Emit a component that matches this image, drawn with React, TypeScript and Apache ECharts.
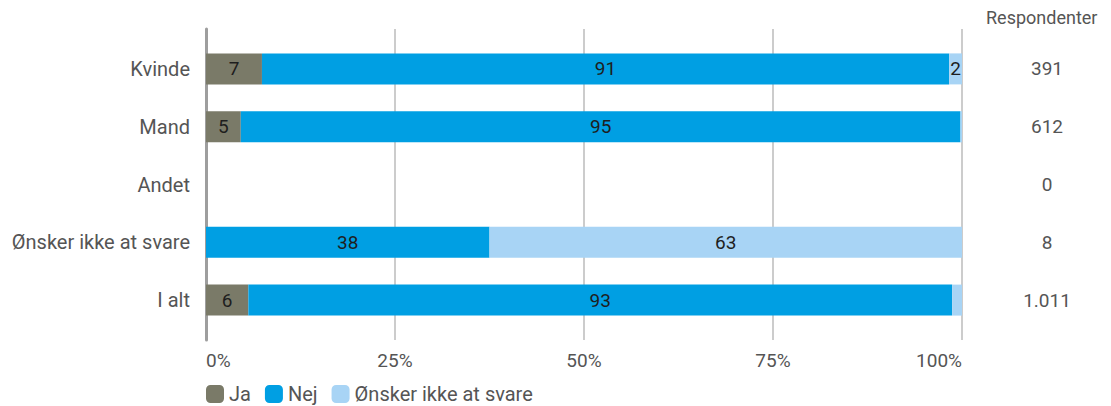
import React, { useEffect, useRef } from "react";
import * as echarts from "echarts";

const categories = ["Kvinde", "Mand", "Andet", "Ønsker ikke at svare", "I alt"];
const respondents = ["391", "612", "0", "8", "1.011"];
const jaValues = [7.4, 4.6, 0, 0, 5.6];
const nejValues = [90.9, 95.2, 0, 37.5, 93.1];
const oenskerValues = [1.7, 0.2, 0, 62.5, 1.3];
const xTicks = [0, 25, 50, 75, 100];

const FONT = "Roboto";

export default function App() {
  const ref = useRef<HTMLDivElement>(null);
  useEffect(() => {
    document.body.style.margin = "0";
    if (!ref.current) return;
    const chart = echarts.init(ref.current, undefined, { renderer: "svg" });
    const labelCfg = {
      show: true,
      position: "inside",
      color: "#1e1e1e",
      fontSize: 19,
      fontFamily: FONT,
      formatter: (p: any) => (p.value >= 1.5 ? String(Math.round(p.value)) : ""),
    };
    const mk = (name: string, data: number[], color: string) => ({
      name,
      type: "bar",
      stack: "total",
      xAxisIndex: 1,
      yAxisIndex: 1,
      barWidth: 31,
      data,
      itemStyle: { color },
      label: labelCfg,
    });
    chart.setOption({
      animation: false,
      textStyle: { fontFamily: FONT },
      grid: [
        { left: 206, right: 149, top: 29, bottom: 66 },
        { left: 206, right: 149, top: 40, bottom: 77 },
      ],
      xAxis: [
        {
          type: "value",
          gridIndex: 0,
          min: xTicks[0],
          max: xTicks[xTicks.length - 1],
          interval: 25,
          axisLine: { show: false },
          axisTick: { show: false },
          splitLine: { show: true, lineStyle: { color: "#cccccc", width: 2 } },
          axisLabel: {
            formatter: "{value}%",
            color: "#555555",
            fontSize: 19,
            fontFamily: FONT,
            margin: 11,
            alignMinLabel: "left",
            alignMaxLabel: "right",
          },
        },
        { type: "value", gridIndex: 1, min: 0, max: 100, show: false },
      ],
      yAxis: [
        {
          type: "value",
          gridIndex: 0,
          min: 0,
          max: 1,
          axisLine: { show: true, lineStyle: { color: "#9e9e9e", width: 3 } },
          axisTick: { show: false },
          axisLabel: { show: false },
          splitLine: { show: false },
        },
        {
          type: "category",
          gridIndex: 1,
          inverse: true,
          data: categories,
          axisLine: { show: false },
          axisTick: { show: false },
          axisLabel: { color: "#555555", fontSize: 20, fontFamily: FONT, margin: 16 },
        },
        {
          type: "category",
          gridIndex: 1,
          inverse: true,
          position: "right",
          data: respondents,
          axisLine: { show: false },
          axisTick: { show: false },
          axisLabel: {
            color: "#555555",
            fontSize: 19,
            fontFamily: FONT,
            margin: 85,
            align: "center",
          },
        },
      ],
      legend: {
        left: 206,
        top: 384,
        padding: 0,
        itemWidth: 18,
        itemHeight: 18,
        itemGap: 14,
        icon: "roundRect",
        textStyle: { color: "#555555", fontSize: 20, lineHeight: 19, fontFamily: FONT },
        data: ["Ja", "Nej", "Ønsker ikke at svare"],
      },
      graphic: [
        {
          type: "text",
          left: 986,
          top: 8,
          style: {
            text: "Respondenter",
            fill: "#555555",
            fontSize: 18,
            fontFamily: FONT,
          },
        },
      ],
      series: [
        mk("Ja", jaValues, "#7a7a68"),
        mk("Nej", nejValues, "#009fe3"),
        mk("Ønsker ikke at svare", oenskerValues, "#a8d4f5"),
      ],
    });
    return () => chart.dispose();
  }, []);
  return <div ref={ref} style={{ width: 1111, height: 406 }} />;
}
